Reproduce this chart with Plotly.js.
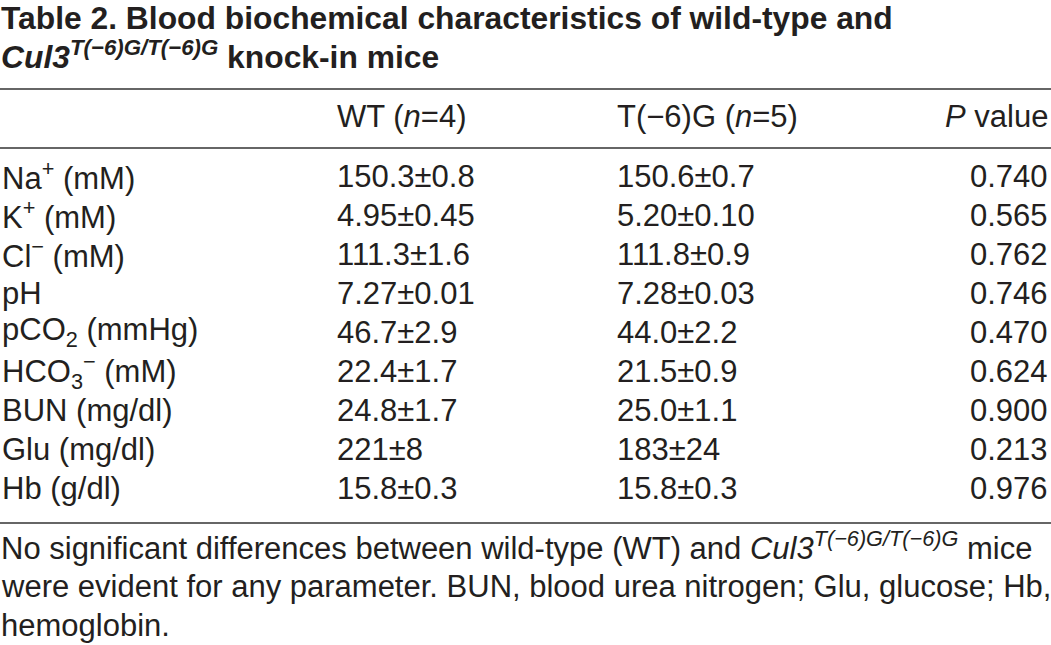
<!DOCTYPE html>
<html><head><meta charset="utf-8">
<script src="https://cdn.plot.ly/plotly-3.0.1.min.js"></script>
<style>html,body{margin:0;padding:0;background:#fff;overflow:hidden}#chart{width:1051px;height:645px}</style>
</head><body><div id="chart"></div>
<script>
// ---- data ----
const titleLines = [
  "Table 2. Blood biochemical characteristics of wild-type and",
  "<i>Cul3</i><sup><i>T(−6)G/T(−6)G</i></sup> knock-in mice"
];
const columnHeaders = ["WT (<i>n</i>=4)", "T(−6)G (<i>n</i>=5)", "<i>P</i> value"];
const parameters = [
  "Na<sup>+</sup> (mM)", "K<sup>+</sup> (mM)", "Cl<sup>−</sup> (mM)", "pH",
  "pCO<sub>2</sub> (mmHg)", "HCO<sub>3</sub><sup>−</sup> (mM)",
  "BUN (mg/dl)", "Glu (mg/dl)", "Hb (g/dl)"
];
const wtValues = ["150.3±0.8", "4.95±0.45", "111.3±1.6", "7.27±0.01", "46.7±2.9", "22.4±1.7", "24.8±1.7", "221±8", "15.8±0.3"];
const t6gValues = ["150.6±0.7", "5.20±0.10", "111.8±0.9", "7.28±0.03", "44.0±2.2", "21.5±0.9", "25.0±1.1", "183±24", "15.8±0.3"];
const pValues = ["0.740", "0.565", "0.762", "0.746", "0.470", "0.624", "0.900", "0.213", "0.976"];
const footnoteLines = [
  "No significant differences between wild-type (WT) and <i>Cul3</i><sup><i>T(−6)G/T(−6)G</i></sup> mice",
  "were evident for any parameter. BUN, blood urea nitrogen; Glu, glucose; Hb,",
  "hemoglobin."
];

// ---- layout ----
const W = 1051, H = 645;
const FONT = "Liberation Sans, Arial, Helvetica, sans-serif";
const INK = "#231f20";
const bodySize = 31, titleSize = 31.8, noteSize = 31;
const colX = [2, 337, 617, 1048];
const headerY = 116;
const rowY0 = 176, rowStep = 39.0;
const noteY0 = 548, noteStep = 38.5;

const ann = [];
function add(text, x, y, anchor, size, bold) {
  ann.push({
    text: bold ? "<b>" + text + "</b>" : text,
    x: x, y: y, xref: "x", yref: "y",
    xanchor: anchor, yanchor: "middle", showarrow: false,
    borderpad: 0, borderwidth: 0, align: anchor,
    font: {family: FONT, size: size, color: INK}
  });
}
add(titleLines[0], 1, 17.5, "left", titleSize, true);
add(titleLines[1], 1, 55, "left", titleSize, true);
add(columnHeaders[0], colX[1], headerY, "left", bodySize);
add(columnHeaders[1], colX[2], headerY, "left", bodySize);
add(columnHeaders[2], colX[3], headerY, "right", bodySize);
parameters.forEach((p, i) => {
  const y = rowY0 + rowStep * i;
  add(p, colX[0], y, "left", bodySize);
  add(wtValues[i], colX[1], y, "left", bodySize);
  add(t6gValues[i], colX[2], y, "left", bodySize);
  add(pValues[i], colX[3], y, "right", bodySize);
});
footnoteLines.forEach((t, i) => add(t, 1, noteY0 + noteStep * i - (i === 0 ? 2 : 0), "left", noteSize));

const rules = [
  {y: 89, w: 1.5, c: "#333"},
  {y: 148, w: 2, c: "#666"},
  {y: 523, w: 2, c: "#666"}
];
const shapes = rules.map(r => ({type: "line", xref: "x", yref: "y", x0: 0, x1: W, y0: r.y, y1: r.y, line: {color: r.c, width: r.w}}));

Plotly.newPlot("chart", [], {
  width: W, height: H,
  margin: {l: 0, r: 0, t: 0, b: 0},
  paper_bgcolor: "#fff", plot_bgcolor: "#fff",
  xaxis: {range: [0, W], visible: false, fixedrange: true},
  yaxis: {range: [H, 0], visible: false, fixedrange: true},
  showlegend: false,
  annotations: ann,
  shapes: shapes
}, {staticPlot: true, displayModeBar: false});
</script></body></html>
